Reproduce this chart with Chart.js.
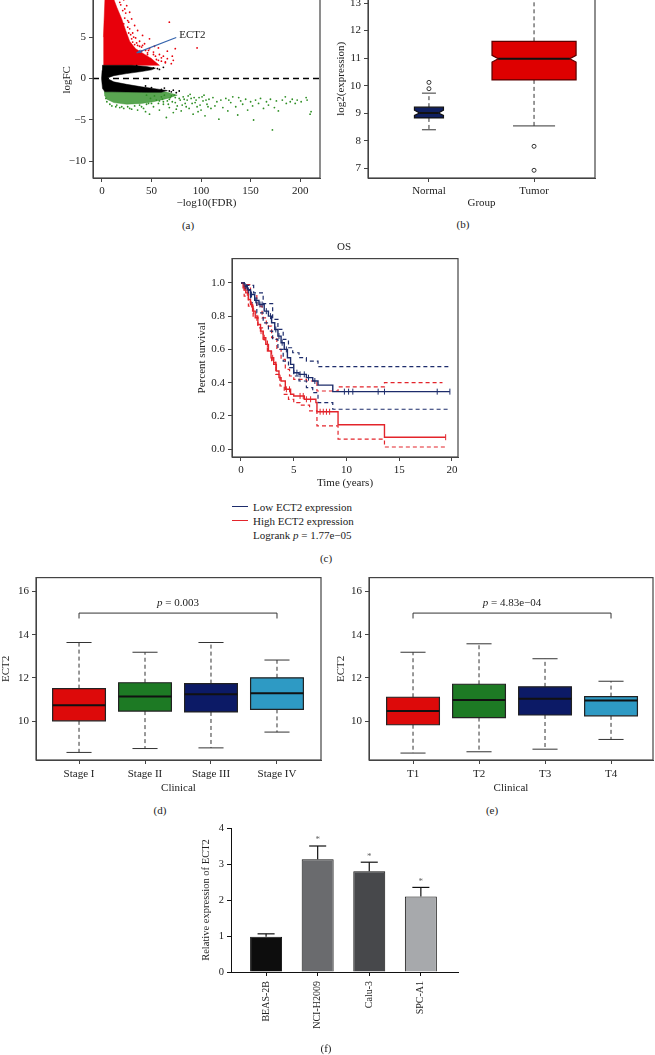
<!DOCTYPE html>
<html>
<head>
<meta charset="utf-8">
<script src="https://cdn.jsdelivr.net/npm/chart.js@4.4.1/dist/chart.umd.min.js"></script>
<style>
  body { margin: 0; background: #fff; width: 655px; height: 1055px; position: relative; overflow: hidden;
         font-family: 'Liberation Serif', serif; color: #222; }
  canvas { position: absolute; }
  .t { position: absolute; font-size: 11px; line-height: 1; white-space: nowrap; }
  .c { transform: translate(-50%, -50%); }
  .m { transform: translateY(-50%); }
  .ln { position: absolute; width: 16px; height: 0; border-top: 1.4px solid; }
</style>
</head>
<body>
<canvas id="cA"></canvas>
<canvas id="cB"></canvas>
<canvas id="cC"></canvas>
<canvas id="cD"></canvas>
<canvas id="cE"></canvas>
<canvas id="cF"></canvas>

<div class="t c" style="left:188px;top:225px">(a)</div>
<div class="t c" style="left:463px;top:224px">(b)</div>
<div class="t c" style="left:344px;top:246px">OS</div>
<div class="ln" style="left:232px;top:506px;border-color:#1d2c6b"></div>
<div class="t m" style="left:253px;top:507px">Low ECT2 expression</div>
<div class="ln" style="left:232px;top:520px;border-color:#e3242b"></div>
<div class="t m" style="left:253px;top:521px">High ECT2 expression</div>
<div class="t m" style="left:253px;top:535px">Logrank <i>p</i> = 1.77e−05</div>
<div class="t c" style="left:326px;top:558px">(c)</div>
<div class="t c" style="left:160px;top:810px">(d)</div>
<div class="t c" style="left:492px;top:810px">(e)</div>
<div class="t c" style="left:326px;top:1048px">(f)</div>

<script>
// ---------- (a) volcano: logFC vs -log10(FDR) ----------
const volcXTicks = [0, 50, 100, 150, 200]
const volcYTicks = [-10, -5, 0, 5]
const volcYLabels = ['−10', '−5', '0', '5']
// dense clouds (outlines of the solid areas)
const redCore = [[1.5, 1.6], [58, 1.6], [50, 2.4], [42, 3.0], [34, 3.6], [28, 4.5], [24, 5.8], [20, 7.2],
  [15, 8.6], [10, 10.2], [6, 11.2], [3, 9.5], [1.5, 5]]
const blackCore = [[0.3, 1.6], [30, 1.6], [45, 1.45], [54, 1.25], [50, 1.05], [40, 0.85], [25, 0.6], [12, 0.35],
  [5, 0.05], [12, -0.4], [25, -0.7], [40, -1.0], [55, -1.25], [66, -1.45], [60, -1.65], [45, -1.65],
  [25, -1.62], [10, -1.6], [3, -1.6], [0.6, -1.2], [-0.4, 0], [0.2, 1.0]]
const greenCore = [[2, -1.55], [40, -1.6], [65, -1.62], [76, -2.0], [66, -2.4], [52, -2.8], [40, -3.0],
  [25, -3.1], [12, -2.9], [5, -2.5], [2.5, -2.0]]
// scattered genes
const redSparse = [[40, 3.8], [42, 2.2], [45, 2.6], [47, 3.4], [50, 2.0], [52, 2.9], [55, 2.3], [57, 3.7],
  [60, 2.1], [62, 2.7], [64, 1.9], [66, 2.4], [68, 6.8], [70, 1.8], [72, 2.2], [74, 3.6], [96, 3.7],
  [38, 4.5], [41, 5.2], [36, 5.8], [33, 6.4], [30, 7.2], [28, 8.0], [25, 8.8], [22, 9.5], [18, 10.6],
  [14, 11.2], [9, 11.5], [43, 4.2], [46, 3.1], [48, 4.8], [34, 4.9], [31, 5.5], [27, 6.8], [24, 7.9],
  [20, 9.9], [16, 9.7], [12, 10.8], [39, 2.9], [44, 1.9], [58, 2.9], [53, 3.9], [49, 2.4], [66, 3.3],
  [71, 2.7], [37, 3.2], [33, 4.1], [29, 5.3], [26, 6.2], [23, 8.4], [19, 8.9],
  [64, 2.0], [60, 2.5], [57, 2.2], [52, 3.2], [48, 3.6], [44, 3.4], [41, 4.0], [38, 3.9], [35, 4.3],
  [32, 5.0], [30, 4.8], [28, 6.0], [26, 7.0], [23, 7.3], [21, 8.2], [18, 9.2], [15, 10.0], [13, 9.6],
  [10, 11.0], [8, 10.5], [54, 2.7], [46, 2.9], [40, 3.3], [36, 4.0], [31, 4.4], [27, 5.5], [22, 6.6]]
const greenSparse = [[52, -3.4], [55, -2.6], [58, -3.8], [60, -2.2], [62, -3.1], [65, -4.7], [66, -2.7],
  [68, -3.5], [70, -2.1], [72, -4.1], [74, -2.9], [76, -3.3], [78, -2.4], [80, -3.9], [82, -2.2], [84, -3.0],
  [86, -2.6], [88, -3.6], [90, -2.4], [92, -4.3], [94, -2.9], [96, -3.4], [98, -2.3], [100, -3.8],
  [102, -2.7], [104, -4.5], [106, -3.1], [108, -2.5], [110, -3.6], [97, -4.0], [89, -1.9], [103, -2.0],
  [112, -2.3], [114, -3.3], [116, -2.8], [118, -4.9], [120, -2.6], [122, -3.5], [125, -2.4], [127, -3.9],
  [130, -2.9], [132, -2.2], [135, -3.4], [137, -4.4], [140, -2.7], [142, -3.1], [145, -2.5], [147, -3.8],
  [150, -2.8], [128, -2.6], [138, -2.3], [152, -3.3], [153, -5.0], [155, -2.6], [158, -3.0], [160, -2.4],
  [163, -3.6], [166, -2.8], [170, -2.5], [172, -6.2], [174, -3.5], [176, -2.7], [178, -3.9], [182, -2.6],
  [186, -3.0], [190, -2.8], [192, -2.5], [195, -3.0], [197, -2.6], [201, -2.8], [206, -2.3], [207, -2.6],
  [210, -4.3], [211, -4.0], [168, -3.2], [185, -2.2], [42, -3.6], [45, -2.0], [47, -3.0], [49, -2.4],
  [53, -2.1], [57, -3.0], [61, -2.5], [63, -2.0], [67, -3.1], [69, -2.3], [71, -2.8], [73, -2.0],
  [75, -3.7], [79, -2.6], [81, -3.2], [83, -2.5], [85, -3.4], [87, -2.1], [91, -3.0], [93, -2.3],
  [95, -2.6], [99, -3.2], [101, -2.2], [105, -2.6], [107, -3.4], [44, -4.0], [48, -4.3], [36, -3.8],
  [30, -3.7], [22, -3.6], [18, -3.5], [14, -3.4],
  [10, -3.3], [15, -3.2], [20, -3.4], [26, -3.4], [33, -3.3], [38, -3.2], [45, -3.1], [50, -3.0],
  [58, -2.7], [62, -2.8], [68, -2.5], [74, -2.3], [8, -3.1], [5, -2.8], [4, -2.4], [28, -3.6], [40, -3.4]]
const blackSparse = [[48, 1.15], [52, 1.3], [56, 1.2], [58, 1.1], [60, -1.3], [63, -1.15], [68, -1.5],
  [70, -1.6], [72, -1.4], [75, -1.7], [78, -1.5], [62, 1.35], [35, 1.55], [44, -0.9], [50, -1.1]]
const zeroLine = [[-9, 0], [220, 0]]
const ect2Gene = [35, 3.1]
const ect2Label = [78, 5.2]

// ---------- (b) Normal vs Tumor, notched boxes ----------
const groups = ['Normal', 'Tumor']
const grpQ1 = [8.83, 10.21]
const grpMed = [9.01, 10.98]
const grpQ3 = [9.22, 11.61]
const grpNotchLo = [8.92, 10.86]
const grpNotchHi = [9.11, 11.1]
const grpLo = [8.40, 8.54]
const grpHi = [9.73, 13.85]
const grpOut = [[9.89, 10.12], [7.80, 6.93]]
const exprTicks = [7, 8, 9, 10, 11, 12, 13]

// ---------- (c) Kaplan-Meier OS ----------
const lowT = [0, 0.3, 0.6, 0.9, 1.3, 1.7, 2.2, 2.6, 2.9, 3.2, 3.5, 3.8, 4.1, 4.4, 4.7, 5.0, 5.5, 6.2, 6.8, 7.3, 8.7, 19.8]
const lowS = [1.0, 0.98, 0.955, 0.93, 0.895, 0.87, 0.83, 0.80, 0.76, 0.72, 0.68, 0.64, 0.60, 0.55, 0.51, 0.46, 0.45, 0.43, 0.41, 0.385, 0.346, 0.346]
const lowUpT = [0, 0.5, 1.2, 2.1, 3.0, 3.5, 4.0, 4.5, 4.9, 5.5, 6.2, 7.3, 19.8]
const lowUpS = [1.0, 0.985, 0.94, 0.875, 0.78, 0.72, 0.66, 0.61, 0.58, 0.55, 0.53, 0.497, 0.497]
const lowLoT = [0, 0.5, 0.9, 1.5, 2.1, 2.6, 3.0, 3.5, 4.0, 4.5, 5.0, 5.5, 6.2, 6.8, 7.3, 8.7, 19.8]
const lowLoS = [1.0, 0.96, 0.88, 0.82, 0.76, 0.71, 0.66, 0.60, 0.53, 0.49, 0.44, 0.41, 0.37, 0.34, 0.28, 0.24, 0.24]
const highT = [0, 0.2, 0.45, 0.7, 0.9, 1.1, 1.35, 1.6, 1.85, 2.1, 2.35, 2.6, 2.85, 3.1, 3.35, 3.6, 3.8, 4.2, 4.7, 5.0, 6.0, 7.1, 7.2, 9.2, 13.6, 19.4]
const highS = [1.0, 0.97, 0.94, 0.90, 0.87, 0.83, 0.79, 0.75, 0.71, 0.67, 0.63, 0.59, 0.55, 0.51, 0.47, 0.43, 0.41, 0.36, 0.33, 0.32, 0.30, 0.28, 0.225, 0.147, 0.072, 0.072]
const highUpT = [0, 0.4, 0.9, 1.5, 2.0, 2.4, 2.9, 3.4, 3.8, 4.2, 4.6, 5.0, 6.2, 7.2, 9.2, 13.6, 19.1]
const highUpS = [1.0, 0.99, 0.93, 0.86, 0.79, 0.74, 0.67, 0.60, 0.54, 0.48, 0.44, 0.42, 0.41, 0.35, 0.375, 0.40, 0.40]
const highLoT = [0, 0.3, 0.7, 1.15, 1.6, 2.1, 2.5, 2.9, 3.3, 3.7, 4.1, 4.5, 5.0, 5.6, 6.5, 7.2, 9.2, 13.6, 19.4]
const highLoS = [1.0, 0.92, 0.86, 0.80, 0.73, 0.66, 0.59, 0.52, 0.45, 0.38, 0.33, 0.30, 0.28, 0.265, 0.23, 0.14, 0.06, 0.013, 0.013]
const lowCensor = [0.4, 0.7, 1.0, 1.4, 1.5, 1.8, 2.0, 2.4, 2.8, 3.3, 3.6, 3.9, 4.3, 5.3, 5.6, 6.0, 6.4, 7.0, 9.8, 10.2, 10.6, 13.0, 13.6, 18.6, 19.8]
const highCensor = [0.3, 0.6, 1.0, 1.2, 1.5, 1.9, 2.2, 2.5, 3.0, 3.3, 3.7, 4.3, 4.6, 5.6, 5.9, 6.2, 6.6, 7.5, 7.8, 8.1, 8.4, 19.4]
const timeTicks = [0, 5, 10, 15, 20]
const survTicks = [0, 0.2, 0.4, 0.6, 0.8, 1.0]
const survLabels = ['0.0', '0.2', '0.4', '0.6', '0.8', '1.0']

// ---------- (d) stages, (e) T stages ----------
const stages = ['Stage I', 'Stage II', 'Stage III', 'Stage IV']
const stageQ1 = [10.02, 10.47, 10.43, 10.55]
const stageMed = [10.74, 11.14, 11.25, 11.29]
const stageQ3 = [11.51, 11.78, 11.74, 12.01]
const stageLo = [8.56, 8.74, 8.77, 9.50]
const stageHi = [13.64, 13.19, 13.64, 12.83]
const tStages = ['T1', 'T2', 'T3', 'T4']
const tQ1 = [9.84, 10.17, 10.29, 10.25]
const tMed = [10.47, 10.98, 11.04, 10.96]
const tQ3 = [11.11, 11.71, 11.59, 11.14]
const tLo = [8.53, 8.59, 8.71, 9.16]
const tHi = [13.19, 13.58, 12.89, 11.85]
const ect2Ticks = [10, 12, 14, 16]
const stagePValue = '0.003'
const tPValue = '4.83e−04'

// ---------- (f) cell lines ----------
const cells = ['BEAS-2B', 'NCI-H2009', 'Calu-3', 'SPC-A1']
const relExpr = [0.98, 3.13, 2.80, 2.10]
const relErr = [1.06, 3.50, 3.05, 2.35]
const relTicks = [0, 1, 2, 3, 4]

// ---------- helpers ----------
Chart.defaults.font.family = "'Liberation Serif', serif"
Chart.defaults.font.size = 11
Chart.defaults.color = '#222'
const AXIS = '#444'
const xy = pts => pts.map(([x, y]) => ({ x, y }))
const zipXY = (xs, ys) => xs.map((x, i) => ({ x, y: ys[i] }))
const stepAt = (ts, ss, t) => {
  let v = ss[0]
  ts.forEach((tt, i) => { if (tt <= t) v = ss[i] })
  return v
}

// put a canvas so that its plot area lands on [l, t, r, b] of the page
function place(id, area, m) {
  const c = document.getElementById(id)
  const w = area[2] - area[0] + m[1] + m[3]
  const h = area[3] - area[1] + m[0] + m[2]
  c.style.left = (area[0] - m[3]) + 'px'
  c.style.top = (area[1] - m[0]) + 'px'
  c.width = w; c.height = h
  c.style.width = w + 'px'; c.style.height = h + 'px'
  return c
}

function axis(o) {
  const horiz = o.pos === 'bottom'
  return {
    type: 'linear', position: o.pos, min: o.min, max: o.max, offset: false,
    afterBuildTicks: s => { s.ticks = o.ticks.map(v => ({ value: v })) },
    afterFit: s => { if (horiz) s.height = o.size; else s.width = o.size },
    ticks: Object.assign({ autoSkip: false, maxRotation: 0, padding: 3, color: '#222',
      callback: (v, i) => (o.labels ? o.labels[i] : String(v)) }, o.tickOpts || {}),
    grid: { drawOnChartArea: false, tickLength: 4, color: o.color || AXIS, offset: false },
    border: { display: true, color: o.color || AXIS },
    title: { display: !!o.title, text: o.title, color: '#222', font: o.titleFont,
      padding: horiz ? { top: 0, bottom: o.tpad } : { top: o.tpad, bottom: 0 } }
  }
}

const baseOpts = pad => ({
  responsive: false, animation: false, devicePixelRatio: 1, events: [],
  layout: { padding: { top: pad[0], right: pad[1], bottom: 0, left: 0 } },
  plugins: { legend: { display: false }, tooltip: { enabled: false } }
})

const framePlugin = {
  id: 'frame',
  afterDraw(chart) {
    const { ctx, chartArea: a } = chart
    ctx.save()
    ctx.strokeStyle = AXIS
    ctx.lineWidth = 1.2
    ctx.strokeRect(a.left, a.top, a.right - a.left, a.bottom - a.top)
    ctx.restore()
  }
}

function seg(ctx, x1, y1, x2, y2) {
  ctx.beginPath(); ctx.moveTo(x1, y1); ctx.lineTo(x2, y2); ctx.stroke()
}

// box-and-whisker drawing through the chart scales
function boxPlugin(id, d, st) {
  return {
    id,
    afterDatasetsDraw(chart) {
      const { ctx, scales: { x, y } } = chart
      const unit = x.getPixelForValue(1) - x.getPixelForValue(0)
      const Y = v => y.getPixelForValue(v)
      d.med.forEach((m, i) => {
        const cx = x.getPixelForValue(i + 1)
        const hw = st.width[i] * unit / 2
        const cw = st.cap[i] * unit / 2
        ctx.save()
        ctx.strokeStyle = '#333'
        ctx.lineWidth = 1
        ctx.setLineDash([4, 3])
        seg(ctx, cx, Y(d.q3[i]), cx, Y(d.hi[i]))
        seg(ctx, cx, Y(d.q1[i]), cx, Y(d.lo[i]))
        ctx.setLineDash([])
        seg(ctx, cx - cw, Y(d.hi[i]), cx + cw, Y(d.hi[i]))
        seg(ctx, cx - cw, Y(d.lo[i]), cx + cw, Y(d.lo[i]))
        const l = cx - hw, r = cx + hw
        const ind = d.nLo ? st.notch[i] * hw : 0
        ctx.beginPath()
        if (d.nLo) {
          ctx.moveTo(l, Y(d.q3[i])); ctx.lineTo(r, Y(d.q3[i])); ctx.lineTo(r, Y(d.nHi[i]))
          ctx.lineTo(r - ind, Y(m)); ctx.lineTo(r, Y(d.nLo[i])); ctx.lineTo(r, Y(d.q1[i]))
          ctx.lineTo(l, Y(d.q1[i])); ctx.lineTo(l, Y(d.nLo[i])); ctx.lineTo(l + ind, Y(m))
          ctx.lineTo(l, Y(d.nHi[i]))
        } else {
          ctx.rect(l, Y(d.q3[i]), r - l, Y(d.q1[i]) - Y(d.q3[i]))
        }
        ctx.closePath()
        ctx.fillStyle = st.fill[i]
        ctx.fill()
        ctx.strokeStyle = st.edge[i]
        ctx.lineWidth = 1.2
        ctx.stroke()
        ctx.strokeStyle = '#111'
        ctx.lineWidth = 2
        seg(ctx, l + ind, Y(m), r - ind, Y(m))
        const outs = d.out ? d.out[i] : []
        outs.forEach(o => {
          ctx.beginPath(); ctx.arc(cx, Y(o), 2, 0, Math.PI * 2)
          ctx.lineWidth = 1; ctx.strokeStyle = '#333'; ctx.stroke()
        })
        ctx.restore()
      })
    }
  }
}

// significance bracket with "p = ..."
function bracketPlugin(id, pText) {
  return {
    id,
    afterDatasetsDraw(chart) {
      const { ctx, scales: { x, y } } = chart
      const x1 = x.getPixelForValue(1), x2 = x.getPixelForValue(4)
      const yl = y.getPixelForValue(15.0), yt = y.getPixelForValue(14.75)
      ctx.save()
      ctx.strokeStyle = '#333'; ctx.lineWidth = 1
      ctx.beginPath(); ctx.moveTo(x1, yt); ctx.lineTo(x1, yl); ctx.lineTo(x2, yl); ctx.lineTo(x2, yt); ctx.stroke()
      const fam = "'Liberation Serif', serif"
      ctx.font = 'italic 11px ' + fam
      const w1 = ctx.measureText('p').width
      ctx.font = '11px ' + fam
      const rest = ' = ' + pText
      const w2 = ctx.measureText(rest).width
      const sx = (x1 + x2) / 2 - (w1 + w2) / 2
      const ty = y.getPixelForValue(15.45)
      ctx.fillStyle = '#222'; ctx.textBaseline = 'middle'; ctx.textAlign = 'left'
      ctx.font = 'italic 11px ' + fam
      ctx.fillText('p', sx, ty)
      ctx.font = '11px ' + fam
      ctx.fillText(rest, sx + w1, ty)
      ctx.restore()
    }
  }
}

// ---------- (a) ----------
const RED = '#e8000b', GRN = '#2f8f25'
const poly = (pts, color) => ({ type: 'line', data: xy(pts), showLine: true, borderWidth: 0.5,
  borderColor: color, backgroundColor: color, fill: 'shape', pointRadius: 0, tension: 0 })
const dots = (pts, color) => ({ type: 'scatter', data: xy(pts), backgroundColor: color,
  borderWidth: 0, pointRadius: 0.9 })

const ect2Plugin = {
  id: 'ect2',
  afterDatasetsDraw(chart) {
    const { ctx, scales: { x, y } } = chart
    const tx = x.getPixelForValue(ect2Gene[0]), ty = y.getPixelForValue(ect2Gene[1])
    const lx = x.getPixelForValue(ect2Label[0]), ly = y.getPixelForValue(ect2Label[1])
    const sx = lx - 3, sy = ly + 2
    ctx.save()
    ctx.strokeStyle = '#3564ad'; ctx.fillStyle = '#3564ad'; ctx.lineWidth = 1.1
    seg(ctx, sx, sy, tx, ty)
    const ang = Math.atan2(ty - sy, tx - sx)
    ctx.beginPath()
    ctx.moveTo(tx, ty)
    ctx.lineTo(tx - 5 * Math.cos(ang - 0.4), ty - 5 * Math.sin(ang - 0.4))
    ctx.lineTo(tx - 5 * Math.cos(ang + 0.4), ty - 5 * Math.sin(ang + 0.4))
    ctx.closePath(); ctx.fill()
    ctx.fillStyle = '#222'; ctx.font = "11px 'Liberation Serif', serif"
    ctx.textBaseline = 'middle'; ctx.textAlign = 'left'
    ctx.fillText('ECT2', lx, ly)
    ctx.restore()
  }
}

new Chart(place('cA', [93, -22, 320, 178], [6, 4, 34, 40]), {
  type: 'scatter',
  data: {
    datasets: [
      dots(redSparse, RED), dots(greenSparse, GRN), dots(blackSparse, '#000'),
      poly(blackCore, '#000'), poly(redCore, RED), poly(greenCore, 'rgba(47,143,37,0.8)'),
      { type: 'line', data: xy(zeroLine), borderColor: '#000', borderWidth: 1.5, borderDash: [6, 4], pointRadius: 0 }
    ]
  },
  options: Object.assign(baseOpts([6, 4]), {
    scales: {
      x: axis({ pos: 'bottom', min: -9, max: 220, ticks: volcXTicks, size: 34, title: '−log10(FDR)', tpad: 2.4 }),
      y: axis({ pos: 'left', min: -12, max: 11.7, ticks: volcYTicks, labels: volcYLabels, size: 40, title: 'logFC', tpad: 7.4 })
    }
  }),
  plugins: [framePlugin, ect2Plugin]
})

// ---------- (b) ----------
new Chart(place('cB', [368, -24, 595, 178], [6, 6, 34, 40]), {
  type: 'scatter',
  data: { datasets: [{ data: zipXY([1, 2], grpMed), pointRadius: 0 }] },
  options: Object.assign(baseOpts([6, 6]), {
    scales: {
      x: axis({ pos: 'bottom', min: 0.42, max: 2.58, ticks: [1, 2], labels: groups, size: 34, title: 'Group', tpad: 2.4 }),
      y: axis({ pos: 'left', min: 6.65, max: 13.85, ticks: exprTicks, size: 40, title: 'log2(expression)', tpad: 6.4 })
    }
  }),
  plugins: [framePlugin, boxPlugin('boxB',
    { q1: grpQ1, med: grpMed, q3: grpQ3, lo: grpLo, hi: grpHi, out: grpOut, nLo: grpNotchLo, nHi: grpNotchHi },
    { width: [0.276, 0.8], cap: [0.133, 0.4], notch: [0.35, 0.15], fill: ['#0f1f5f', '#de0000'], edge: ['#111', '#5a0000'] })]
})

// ---------- (c) ----------
const BLUE = '#1d2c6b', KRED = '#e3242b'
const km = (ts, ss, color, dashed) => ({ type: 'line', data: zipXY(ts, ss), stepped: 'before', borderColor: color,
  borderWidth: dashed ? 1.2 : 1.4, borderDash: dashed ? [4, 3] : [], pointRadius: 0, fill: false })
const censor = (times, ts, ss, color) => ({ type: 'scatter', data: times.map(t => ({ x: t, y: stepAt(ts, ss, t) })),
  pointStyle: 'line', rotation: 90, pointRadius: 3, borderColor: color, borderWidth: 1 })

new Chart(place('cC', [232, 253, 458, 457], [4, 6, 34, 40]), {
  type: 'scatter',
  data: {
    datasets: [
      censor(lowCensor, lowT, lowS, BLUE), censor(highCensor, highT, highS, KRED),
      km(lowT, lowS, BLUE, false), km(highT, highS, KRED, false),
      km(lowUpT, lowUpS, BLUE, true), km(lowLoT, lowLoS, BLUE, true),
      km(highUpT, highUpS, KRED, true), km(highLoT, highLoS, KRED, true)
    ]
  },
  options: Object.assign(baseOpts([4, 6]), {
    scales: {
      x: axis({ pos: 'bottom', min: -0.853, max: 20.57, ticks: timeTicks, size: 34, title: 'Time (years)', tpad: 1.4 }),
      y: axis({ pos: 'left', min: -0.047, max: 1.146, ticks: survTicks, labels: survLabels, size: 40, title: 'Percent survival', tpad: 3.4 })
    }
  }),
  plugins: [framePlugin]
})

// ---------- (d) ----------
const boxColors = ['#dd0a0a', '#1d7a24', '#0c1a66', '#2e9ac4']
const boxStyle = { width: [0.8, 0.8, 0.8, 0.8], cap: [0.38, 0.38, 0.38, 0.38], fill: boxColors, edge: ['#222', '#222', '#222', '#222'] }

new Chart(place('cD', [36, 572, 321, 760], [4, 4, 36, 36]), {
  type: 'scatter',
  data: { datasets: [{ data: zipXY([1, 2, 3, 4], stageMed), pointRadius: 0 }] },
  options: Object.assign(baseOpts([4, 4]), {
    scales: {
      x: axis({ pos: 'bottom', min: 0.348, max: 4.667, ticks: [1, 2, 3, 4], labels: stages, size: 36, title: 'Clinical', tpad: 1.4, tickOpts: { padding: 4 } }),
      y: axis({ pos: 'left', min: 8.21, max: 16.64, ticks: ect2Ticks, size: 36, title: 'ECT2', tpad: 0 })
    }
  }),
  plugins: [framePlugin, boxPlugin('boxD', { q1: stageQ1, med: stageMed, q3: stageQ3, lo: stageLo, hi: stageHi }, boxStyle),
    bracketPlugin('brD', stagePValue)]
})

// ---------- (e) ----------
new Chart(place('cE', [369, 572, 653, 760], [4, 2, 36, 40]), {
  type: 'scatter',
  data: { datasets: [{ data: zipXY([1, 2, 3, 4], tMed), pointRadius: 0 }] },
  options: Object.assign(baseOpts([4, 2]), {
    scales: {
      x: axis({ pos: 'bottom', min: 0.333, max: 4.636, ticks: [1, 2, 3, 4], labels: tStages, size: 36, title: 'Clinical', tpad: 1.4, tickOpts: { padding: 4 } }),
      y: axis({ pos: 'left', min: 8.21, max: 16.64, ticks: ect2Ticks, size: 40, title: 'ECT2', tpad: 5.4 })
    }
  }),
  plugins: [framePlugin, boxPlugin('boxE', { q1: tQ1, med: tMed, q3: tQ3, lo: tLo, hi: tHi }, boxStyle),
    bracketPlugin('brE', tPValue)]
})

// ---------- (f) ----------
const barColors = ['#0d0d0d', '#6a6b6e', '#47484b', '#a7a9ac']
const errPlugin = {
  id: 'err',
  afterDatasetsDraw(chart) {
    const { ctx, scales: { x, y } } = chart
    const unit = x.getPixelForValue(1) - x.getPixelForValue(0)
    ctx.save()
    ctx.strokeStyle = '#111'; ctx.lineWidth = 1.2
    relExpr.forEach((v, i) => {
      const cx = x.getPixelForValue(i + 1)
      const top = y.getPixelForValue(v), cap = y.getPixelForValue(relErr[i])
      seg(ctx, cx, top, cx, cap)
      seg(ctx, cx - 0.165 * unit, cap, cx + 0.165 * unit, cap)
      if (i > 0) {
        ctx.fillStyle = '#666'; ctx.font = "9px 'Liberation Serif', serif"
        ctx.textAlign = 'center'; ctx.textBaseline = 'middle'
        ctx.fillText('*', cx, cap - 6)
      }
    })
    ctx.restore()
  }
}

new Chart(place('cF', [231, 828, 458, 972], [10, 6, 72, 36]), {
  type: 'bar',
  data: {
    datasets: [{ data: zipXY([1, 2, 3, 4], relExpr), backgroundColor: barColors, borderColor: '#111',
      borderWidth: 1, barPercentage: 0.775, categoryPercentage: 0.8 }]
  },
  options: Object.assign(baseOpts([10, 6]), {
    scales: {
      x: axis({ pos: 'bottom', min: 0.32, max: 4.72, ticks: [1, 2, 3, 4], labels: cells, size: 72, color: '#111',
        tickOpts: { minRotation: 90, maxRotation: 90, padding: 5, font: { size: 10 } } }),
      y: axis({ pos: 'left', min: 0, max: 4, ticks: relTicks, size: 36, color: '#111', title: 'Relative expression of ECT2',
        titleFont: { size: 10.5 }, tpad: 4.7, tickOpts: { font: { size: 10.5 } } })
    }
  }),
  plugins: [errPlugin]
})
</script>
</body>
</html>
